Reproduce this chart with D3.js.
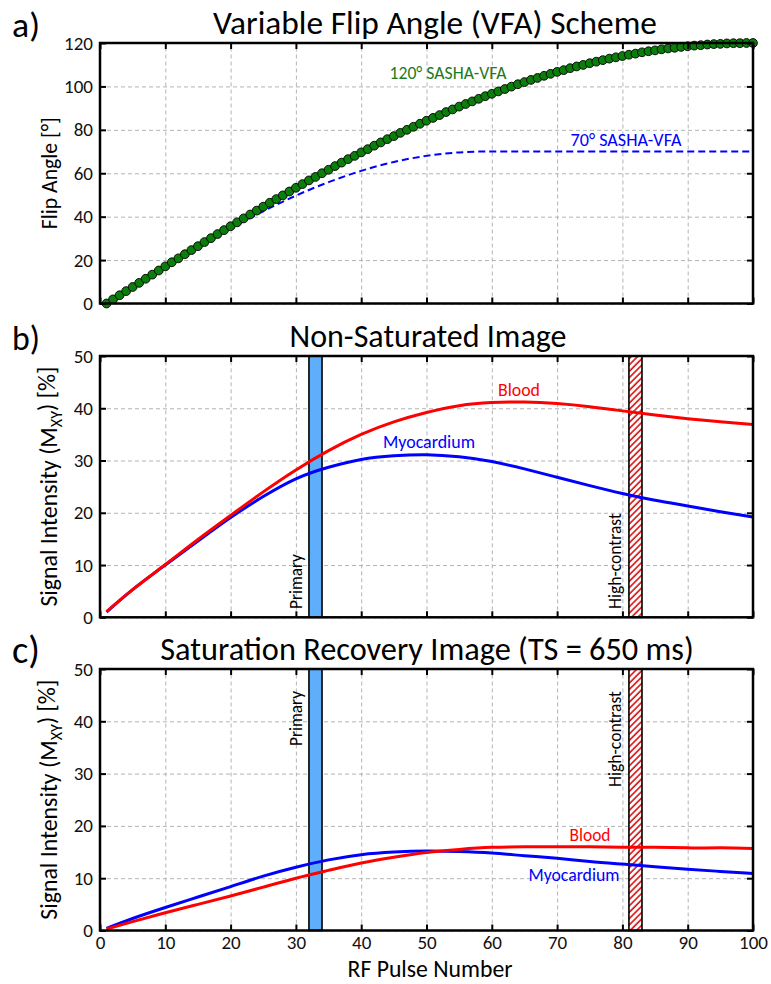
<!DOCTYPE html>
<html>
<head>
<meta charset="utf-8">
<script src="https://cdn.jsdelivr.net/npm/d3@7/dist/d3.min.js"></script>
<style>
  html, body { margin: 0; padding: 0; background: #fff; }
  svg { display: block; }
  text { font-family: Carlito, Calibri, Lato, "Open Sans", sans-serif; }
</style>
</head>
<body>
<svg id="fig" width="771" height="984"></svg>
<script>
// ---- data -------------------------------------------------------------
// RF pulse index (1..100)
const pulseNumbers = d3.range(1, 101);

// 120° SASHA variable flip angle train, one value per pulse (degrees)
const fa120 = [
  0.0, 1.9, 3.8, 5.7, 7.6, 9.5, 11.4, 13.3, 15.2, 17.1,
  19.0, 20.8, 22.7, 24.6, 26.4, 28.3, 30.1, 32.0, 33.8, 35.6,
  37.4, 39.2, 41.0, 42.8, 44.6, 46.4, 48.1, 49.8, 51.6, 53.3,
  55.0, 56.7, 58.3, 60.0, 61.6, 63.3, 64.9, 66.5, 68.0, 69.6,
  71.1, 72.7, 74.2, 75.7, 77.1, 78.6, 80.0, 81.4, 82.8, 84.2,
  85.5, 86.8, 88.2, 89.4, 90.7, 91.9, 93.1, 94.3, 95.5, 96.6,
  97.7, 98.8, 99.9, 101.0, 102.0, 103.0, 103.9, 104.9, 105.8, 106.7,
  107.5, 108.4, 109.2, 109.9, 110.7, 111.4, 112.1, 112.8, 113.4, 114.0,
  114.6, 115.1, 115.7, 116.2, 116.6, 117.1, 117.5, 117.8, 118.2, 118.5,
  118.8, 119.0, 119.3, 119.5, 119.6, 119.8, 119.9, 119.9, 120.0, 120.0
];

// 70° SASHA variable flip angle train (degrees)
const fa70Pulses = [1, 5, 10, 15, 20, 25, 30, 35, 40, 45, 50, 55, 59, 65, 70, 80, 90, 100];
const fa70 = [0.0, 7.6, 17.0, 26.0, 34.6, 42.5, 49.7, 55.9, 61.1, 65.2, 68.0, 69.6, 70.0, 70.0, 70.0, 70.0, 70.0, 70.0];

// signal curves sampled every 5 pulses
const signalPulses = [1, 5, 10, 15, 20, 25, 30, 35, 40, 45, 50, 55, 60, 65, 70, 75, 80, 85, 90, 95, 100];

// non-saturated image, transverse magnetisation (%)
const nsBlood = [1.1, 5.3, 10.1, 14.9, 19.5, 24.0, 28.2, 31.9, 35.0, 37.4, 39.2, 40.5, 41.1, 41.2, 40.9, 40.3, 39.5, 38.7, 38.0, 37.4, 36.9];
const nsMyo   = [1.0, 5.3, 10.0, 14.6, 19.1, 23.1, 26.5, 28.7, 30.2, 30.9, 31.1, 30.7, 29.8, 28.4, 26.8, 25.2, 23.7, 22.4, 21.3, 20.2, 19.2];

// saturation recovery image, TS = 650 ms (%)
const srBlood = [0.3, 1.7, 3.4, 5.0, 6.6, 8.3, 10.0, 11.5, 12.9, 14.0, 14.9, 15.5, 15.9, 16.0, 16.0, 16.0, 15.9, 15.9, 15.8, 15.8, 15.7];
const srMyo   = [0.4, 2.3, 4.4, 6.4, 8.4, 10.4, 12.1, 13.5, 14.5, 15.0, 15.2, 15.1, 14.8, 14.3, 13.8, 13.2, 12.7, 12.2, 11.7, 11.3, 10.9];

// acquisition windows (pulse ranges)
const primaryWindow = [32, 34];
const highContrastWindow = [81, 83];

// tick values
const xTicks = [0, 10, 20, 30, 40, 50, 60, 70, 80, 90, 100];
const faTicks = [0, 20, 40, 60, 80, 100, 120];
const siTicks = [0, 10, 20, 30, 40, 50];

// ---- helpers ------------------------------------------------------------
const svg = d3.select("#fig");
const left = 100, right = 753;
const x = d3.scaleLinear().domain([0, 100]).range([left, right]);

// scale a text element's font so its advance width equals `width`
function fitWidth(sel, width) {
  const node = sel.node();
  const fs = parseFloat(sel.attr("font-size"));
  const len = node.getComputedTextLength();
  if (len > 0) sel.attr("font-size", (fs * width / len).toFixed(2));
  return sel;
}

const defs = svg.append("defs");
const hatch = defs.append("pattern")
  .attr("id", "hatch").attr("patternUnits", "userSpaceOnUse")
  .attr("width", 4.5).attr("height", 4.5)
  .attr("patternTransform", "rotate(45)");
hatch.append("rect").attr("width", 4.5).attr("height", 4.5).attr("fill", "#fff");
hatch.append("line").attr("x1", 1).attr("y1", 0).attr("x2", 1).attr("y2", 4.5)
  .attr("stroke", "#d40000").attr("stroke-width", 1.5);

function panel(opts) {
  const { top, bottom, domain, yTicks, letter, title, titleWidth, titleX, ylabel, showX } = opts;
  const y = d3.scaleLinear().domain(domain).range([bottom, top]);
  const g = svg.append("g");
  const w = right - left, h = bottom - top;

  // dashed grid
  g.append("g").attr("transform", `translate(0,${bottom})`)
    .call(d3.axisBottom(x).tickValues(xTicks).tickSize(-h).tickFormat(""))
    .call(s => s.select(".domain").remove())
    .selectAll("line").attr("stroke", "#b4b4b4").attr("stroke-dasharray", "4,3").attr("stroke-width", 1);
  g.append("g").attr("transform", `translate(${left},0)`)
    .call(d3.axisLeft(y).tickValues(yTicks).tickSize(-w).tickFormat(""))
    .call(s => s.select(".domain").remove())
    .selectAll("line").attr("stroke", "#b4b4b4").attr("stroke-dasharray", "4,3").attr("stroke-width", 1);

  const cid = "clip" + top;
  defs.append("clipPath").attr("id", cid).append("rect")
    .attr("x", left).attr("y", top).attr("width", w).attr("height", h);

  const inner = g.append("g");
  const overlay = g.append("g");

  // frame and inward ticks on all four sides
  const fr = g.append("g");
  fr.append("g").attr("transform", `translate(0,${bottom})`)
    .call(d3.axisBottom(x).tickValues(xTicks).tickSize(-6).tickSizeOuter(0).tickPadding(5)
      .tickFormat(showX ? d3.format("d") : ""));
  fr.append("g").attr("transform", `translate(0,${top})`)
    .call(d3.axisTop(x).tickValues(xTicks).tickSize(-6).tickSizeOuter(0).tickFormat(""));
  fr.append("g").attr("transform", `translate(${left},0)`)
    .call(d3.axisLeft(y).tickValues(yTicks).tickSize(-6).tickSizeOuter(0).tickPadding(7).tickFormat(d3.format("d")));
  fr.append("g").attr("transform", `translate(${right},0)`)
    .call(d3.axisRight(y).tickValues(yTicks).tickSize(-6).tickSizeOuter(0).tickFormat(""));
  fr.selectAll(".domain").remove();
  fr.selectAll(".tick line").attr("stroke", "#000").attr("stroke-width", 2);
  fr.selectAll(".tick text").attr("font-size", 19).attr("fill", "#111")
    .style("font-family", "Carlito, Calibri, Lato, sans-serif");
  fr.append("rect").attr("x", left).attr("y", top).attr("width", w).attr("height", h)
    .attr("fill", "none").attr("stroke", "#000").attr("stroke-width", 2.5);

  // panel letter, title, y label
  fitWidth(g.append("text").attr("x", 12).attr("y", top - 6).attr("font-size", 34).text(letter), 28);
  fitWidth(g.append("text").attr("x", titleX).attr("y", top - 9)
    .attr("text-anchor", "middle").attr("font-size", 30).text(title), titleWidth);
  const yl = g.append("text")
    .attr("transform", `translate(57,${(top + bottom) / 2}) rotate(-90)`)
    .attr("text-anchor", "middle").attr("font-size", 20);
  ylabel(yl);

  return { y, inner, overlay, cid, top, bottom };
}

// ---- panel a : flip angles ----------------------------------------------
const pa = panel({
  top: 43, bottom: 303.5, domain: [0, 120], yTicks: faTicks, letter: "a)",
  title: "Variable Flip Angle (VFA) Scheme", titleWidth: 444, titleX: 435, showX: false,
  ylabel: t => fitWidth(t.text("Flip Angle [°]"), 112)
});
pa.inner.append("path")
  .datum(fa70Pulses.map((p, i) => [p, fa70[i]]))
  .attr("clip-path", `url(#${pa.cid})`)
  .attr("fill", "none").attr("stroke", "#0000ff").attr("stroke-width", 2)
  .attr("stroke-dasharray", "7,4")
  .attr("d", d3.line().x(d => x(d[0])).y(d => pa.y(d[1])).curve(d3.curveMonotoneX));
pa.inner.append("path")
  .datum(pulseNumbers.map((p, i) => [p, fa120[i]]))
  .attr("fill", "none").attr("stroke", "#000").attr("stroke-width", 1)
  .attr("d", d3.line().x(d => x(d[0])).y(d => pa.y(d[1])));
pa.overlay.selectAll("circle").data(pulseNumbers).join("circle")
  .attr("cx", d => x(d)).attr("cy", (d, i) => pa.y(fa120[i])).attr("r", 4.4)
  .attr("fill", "#0b7d0b").attr("stroke", "#000").attr("stroke-width", 0.9);
fitWidth(pa.overlay.append("text").attr("x", 448).attr("y", 79).attr("text-anchor", "middle")
  .attr("font-size", 17).attr("fill", "#1e7a1e").text("120° SASHA-VFA"), 117);
fitWidth(pa.overlay.append("text").attr("x", 626).attr("y", 146).attr("text-anchor", "middle")
  .attr("font-size", 17).attr("fill", "#0000ff").text("70° SASHA-VFA"), 111);

// ---- signal panels ------------------------------------------------------
function signalLabel(t) {
  t.append("tspan").text("Signal Intensity (M");
  t.append("tspan").attr("font-size", "0.68em").attr("dy", "0.3em").text("XY");
  t.append("tspan").attr("dy", "-0.3em").text(") [%]");
  fitWidth(t, 240);
}

function windows(p, primaryLabelY, primaryAnchor, hcLabelY, hcAnchor) {
  p.inner.append("rect")
    .attr("x", x(primaryWindow[0])).attr("y", p.top)
    .attr("width", x(primaryWindow[1]) - x(primaryWindow[0])).attr("height", p.bottom - p.top)
    .attr("fill", "#5eaefb").attr("stroke", "#000").attr("stroke-width", 1.6);
  p.inner.append("rect")
    .attr("x", x(highContrastWindow[0])).attr("y", p.top)
    .attr("width", x(highContrastWindow[1]) - x(highContrastWindow[0])).attr("height", p.bottom - p.top)
    .attr("fill", "url(#hatch)").attr("stroke", "#000").attr("stroke-width", 1.6);
  fitWidth(p.inner.append("text")
    .attr("transform", `translate(${x(primaryWindow[0]) - 7},${primaryLabelY}) rotate(-90)`)
    .attr("text-anchor", primaryAnchor).attr("font-size", 17).text("Primary"), 55);
  fitWidth(p.inner.append("text")
    .attr("transform", `translate(${x(highContrastWindow[0]) - 8},${hcLabelY}) rotate(-90)`)
    .attr("text-anchor", hcAnchor).attr("font-size", 17).text("High-contrast"), 96);
}

function curves(p, blood, myo) {
  const line = d3.line().x(d => x(d[0])).y(d => p.y(d[1])).curve(d3.curveNatural);
  p.overlay.append("path").datum(signalPulses.map((s, i) => [s, myo[i]]))
    .attr("clip-path", `url(#${p.cid})`)
    .attr("fill", "none").attr("stroke", "#0000ff").attr("stroke-width", 3).attr("d", line);
  p.overlay.append("path").datum(signalPulses.map((s, i) => [s, blood[i]]))
    .attr("clip-path", `url(#${p.cid})`)
    .attr("fill", "none").attr("stroke", "#ff0000").attr("stroke-width", 3).attr("d", line);
}

function label(p, cx, by, txt, color, width) {
  fitWidth(p.overlay.append("text").attr("x", cx).attr("y", by).attr("text-anchor", "middle")
    .attr("font-size", 18).attr("fill", color).text(txt), width);
}

// panel b
const pb = panel({
  top: 356, bottom: 617.3, domain: [0, 50], yTicks: siTicks, letter: "b)",
  title: "Non-Saturated Image", titleWidth: 277, titleX: 428, showX: false, ylabel: signalLabel
});
windows(pb, 609, "start", 609, "start");
curves(pb, nsBlood, nsMyo);
label(pb, 519, 396, "Blood", "#ff0000", 42);
label(pb, 429, 448, "Myocardium", "#0000ff", 92);

// panel c
const pc = panel({
  top: 669, bottom: 930.5, domain: [0, 50], yTicks: siTicks, letter: "c)",
  title: "Saturation Recovery Image (TS = 650 ms)", titleWidth: 534, titleX: 427, showX: true, ylabel: signalLabel
});
windows(pc, 691, "end", 691, "end");
curves(pc, srBlood, srMyo);
label(pc, 590, 841, "Blood", "#ff0000", 41);
label(pc, 574, 881, "Myocardium", "#0000ff", 91);

// x axis title
fitWidth(svg.append("text").attr("x", 430).attr("y", 977).attr("text-anchor", "middle")
  .attr("font-size", 20).text("RF Pulse Number"), 165);
</script>
</body>
</html>
